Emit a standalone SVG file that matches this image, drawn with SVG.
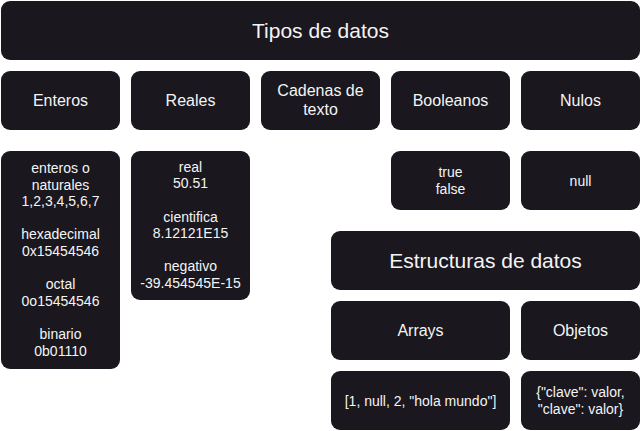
<svg xmlns="http://www.w3.org/2000/svg" width="641" height="431" viewBox="0 0 641 431">
<style>
rect.box{fill:#1a171e;}
text{font-family:"Liberation Sans",Arial,sans-serif;fill:#f4f4f4;text-anchor:middle;}
.t20{font-size:21px;}
.t16{font-size:16px;}
.t14{font-size:14px;}
</style>
<rect width="641" height="431" fill="#ffffff"/>
<g id="connectors"/>
<g id="tipos-de-datos"><rect class="box" x="1" y="1" width="639" height="59" rx="9"/><text class="t20" x="320.5" y="37.5">Tipos de datos</text></g>
<g id="enteros"><rect class="box" x="1" y="71" width="119" height="59" rx="9"/><text class="t16" x="60.5" y="106">Enteros</text></g>
<g id="reales"><rect class="box" x="131" y="71" width="119" height="59" rx="9"/><text class="t16" x="190.5" y="106">Reales</text></g>
<g id="cadenas"><rect class="box" x="261" y="71" width="119" height="59" rx="9"/><text class="t16" x="320.5" y="96">Cadenas de</text><text class="t16" x="320.5" y="115">texto</text></g>
<g id="booleanos"><rect class="box" x="391" y="71" width="119" height="59" rx="9"/><text class="t16" x="450.5" y="106">Booleanos</text></g>
<g id="nulos"><rect class="box" x="521" y="71" width="119" height="59" rx="9"/><text class="t16" x="580.5" y="106">Nulos</text></g>
<g id="enteros-detalle"><rect class="box" x="1" y="151" width="119" height="218" rx="9"/>
<text class="t14" x="60.5" y="173">enteros o</text>
<text class="t14" x="60.5" y="189.6">naturales</text>
<text class="t14" x="60.5" y="206.2">1,2,3,4,5,6,7</text>
<text class="t14" x="60.5" y="239.4">hexadecimal</text>
<text class="t14" x="60.5" y="256">0x15454546</text>
<text class="t14" x="60.5" y="289.2">octal</text>
<text class="t14" x="60.5" y="305.8">0o15454546</text>
<text class="t14" x="60.5" y="339">binario</text>
<text class="t14" x="60.5" y="355.6">0b01110</text>
</g>
<g id="reales-detalle"><rect class="box" x="131" y="151" width="119" height="149" rx="9"/>
<text class="t14" x="190.5" y="171.7">real</text>
<text class="t14" x="190.5" y="188.3">50.51</text>
<text class="t14" x="190.5" y="221.5">cientifica</text>
<text class="t14" x="190.5" y="238.1">8.12121E15</text>
<text class="t14" x="190.5" y="271.3">negativo</text>
<text class="t14" x="190.5" y="287.9">-39.454545E-15</text>
</g>
<g id="booleanos-detalle"><rect class="box" x="391" y="151" width="119" height="59" rx="9"/><text class="t14" x="450.5" y="177">true</text><text class="t14" x="450.5" y="193.6">false</text></g>
<g id="nulos-detalle"><rect class="box" x="521" y="151" width="119" height="59" rx="9"/><text class="t14" x="580.5" y="185.5">null</text></g>
<g id="estructuras"><rect class="box" x="331" y="231" width="309" height="59" rx="9"/><text class="t20" x="485.5" y="267.5">Estructuras de datos</text></g>
<g id="arrays"><rect class="box" x="331" y="301" width="179" height="59" rx="9"/><text class="t16" x="420.5" y="336">Arrays</text></g>
<g id="objetos"><rect class="box" x="521" y="301" width="119" height="59" rx="9"/><text class="t16" x="580.5" y="336">Objetos</text></g>
<g id="arrays-detalle"><rect class="box" x="331" y="371" width="179" height="59" rx="9"/><text class="t14" x="420.5" y="405.5">[1, null, 2, "hola mundo"]</text></g>
<g id="objetos-detalle"><rect class="box" x="521" y="371" width="119" height="59" rx="9"/><text class="t14" x="580.5" y="397">{"clave": valor,</text><text class="t14" x="580.5" y="413.6">"clave": valor}</text></g>
</svg>
